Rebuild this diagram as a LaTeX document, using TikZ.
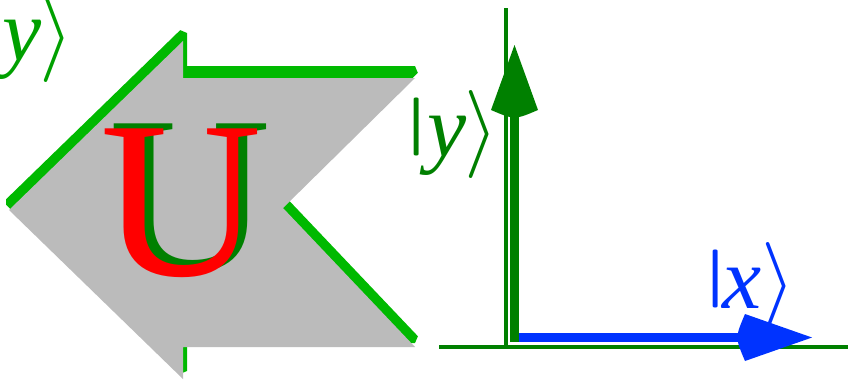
\documentclass[tikz,border=0pt]{standalone}
\usepackage{fix-cm}
\usepackage{fontspec}
\usepackage{graphicx}
\newfontfamily\ufont{Liberation Serif}
\definecolor{arrgray}{RGB}{187,187,187}
\definecolor{shgreen}{RGB}{0,185,0}
\definecolor{dkgreen}{RGB}{0,128,0}
\definecolor{tlgreen}{RGB}{0,160,0}
\definecolor{ublue}{RGB}{0,51,255}
\definecolor{ured}{RGB}{255,0,0}
\newcommand{\kbar}{\scalebox{1.4}[0.66]{\raisebox{0.25em}{|}}}
\newcommand{\ivar}[1]{{\ufont\itshape #1}}
\begin{document}
\begin{tikzpicture}[x=1pt,y=-1pt,
  lbl/.style={inner sep=0pt, anchor=base west, font=\fontsize{88}{88}\selectfont},
  ulbl/.style={inner sep=0pt, anchor=base west, font=\fontsize{224}{224}\selectfont\ufont},
  axis/.style={draw=dkgreen, line width=4pt},
  shaft/.style={line width=9pt}]
\useasboundingbox (0,0) rectangle (848,380);
% big gray arrow with green shadow
\fill[shgreen, draw=shgreen, line width=8pt, line join=bevel, yshift=8pt]
  (9,210) -- (183,41) -- (183,78) -- (415,78) -- (283,208) -- (415,347) -- (183,347) -- (183,379) -- cycle;
\fill[arrgray]
  (9,210) -- (183,41) -- (183,78) -- (415,78) -- (283,208) -- (415,347) -- (183,347) -- (183,379) -- cycle;
% U letters
\node[ulbl, text=dkgreen] (ug) at (109,270) {U};
\node[ulbl, text=ured] (ur) at (100,275) {U};
% labels
\node[lbl, text=tlgreen] (ytl) at (-26,60) {\kbar\hspace{-6pt}\ivar{y}\hspace{-2pt}$\rangle$};
\node[lbl, text=dkgreen] (yr) at (399,156) {\kbar\hspace{-6pt}\ivar{y}\hspace{-2pt}$\rangle$};
\node[lbl, text=ublue] (xr) at (698,308) {\kbar\hspace{-10pt}\ivar{x}$\rangle$};
% axes
\coordinate (vtop) at (506,8);
\coordinate (vbot) at (506,349);
\coordinate (hl) at (439,347);
\coordinate (hr) at (848,347);
\draw[axis] (vtop) -- (vbot);
\draw[axis] (hl) -- (hr);
% blue arrow
\coordinate (bO) at (510,337.5);
\coordinate (bB) at (746,337.5);
\coordinate (bT) at (812,337.5);
\draw[ublue, shaft] (bO) -- (bB);
\fill[ublue] (bT) -- (745,314) .. controls (735,337.5) .. (745,361) -- cycle;
% green arrow
\coordinate (gO) at (514.5,342);
\coordinate (gB) at (514.5,111);
\coordinate (gT) at (514.5,45);
\draw[dkgreen, shaft] (gO) -- (gB);
\fill[dkgreen] (gT) -- (491,110) .. controls (514.5,120) .. (538,110) -- cycle;
\end{tikzpicture}
\end{document}
